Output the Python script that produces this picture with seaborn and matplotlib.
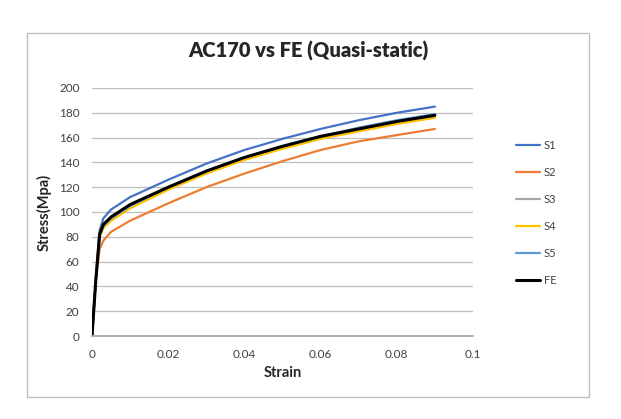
import numpy as np
import pandas as pd
import matplotlib
matplotlib.use("Agg")
import matplotlib.pyplot as plt
import seaborn as sns
from matplotlib.patches import Rectangle

# stress-strain readings
strain = [0, 0.001, 0.002, 0.003, 0.005, 0.01, 0.02, 0.03, 0.04, 0.05, 0.06, 0.07, 0.08, 0.09]
s1 = [0, 45, 85, 95, 102, 112, 126, 139, 150, 159, 167, 174, 180, 185]
s2 = [0, 45, 70, 77, 84, 93, 107, 120, 131, 141, 150, 157, 162, 167]
s3 = [0, 45, 80, 88, 94, 104, 119, 132, 143, 152, 160, 166, 172, 177]
s4 = [0, 45, 80, 87, 93, 103, 118, 131, 142, 151, 159, 165, 171, 176]
s5 = [0, 45, 82, 89, 95, 105, 120, 133, 144, 153, 161, 168, 174, 179]
fe = [0, 45, 82, 90, 96, 106, 120, 133, 144, 153, 161, 167, 173, 178]

names = ["S1", "S2", "S3", "S4", "S5", "FE"]
colors = ["#4472C4", "#ED7D31", "#A5A5A5", "#FFC000", "#5B9BD5", "#000000"]

rows = []
for name, vals in zip(names, [s1, s2, s3, s4, s5, fe]):
    for x, y in zip(strain, vals):
        rows.append({"Strain": x, "Stress": y, "series": name})
df = pd.DataFrame(rows)

sns.set_theme(style="white")
plt.rcParams["font.family"] = ["Lato", "DejaVu Sans"]

fig = plt.figure(figsize=(6.21, 4.19), dpi=100)
fig.patches.append(Rectangle((27 / 621, 1 - 397 / 419), 562 / 621, 364 / 419,
                             transform=fig.transFigure, fill=False,
                             edgecolor="#BFBFBF", linewidth=1))
ax = fig.add_axes([92 / 621, 1 - 336 / 419, 381 / 621, 248 / 419])

for name, col in zip(names, colors):
    sub = df[df["series"] == name]
    sns.lineplot(data=sub, x="Strain", y="Stress", ax=ax, color=col,
                 linewidth=2.2 if name == "FE" else 1.6, label=name)

ax.set_xlim(0, 0.1)
ax.set_ylim(0, 200)
ax.set_xticks([0, 0.02, 0.04, 0.06, 0.08, 0.1])
ax.set_xticklabels(["0", "0.02", "0.04", "0.06", "0.08", "0.1"])
ax.set_yticks(range(0, 201, 20))
ax.yaxis.grid(True, color="#BFBFBF", linewidth=0.9)
ax.xaxis.grid(False)
for s in ["top", "right", "left"]:
    ax.spines[s].set_visible(False)
ax.spines["bottom"].set_color("#A6A6A6")
ax.tick_params(axis="both", labelsize=8.5, colors="#404040", length=0)
ax.tick_params(axis="x", pad=9)
ax.tick_params(axis="y", pad=9)
ax.set_xlabel("Strain", fontsize=10.5, fontweight="bold", color="#262626", labelpad=5)
ax.set_ylabel("Stress(Mpa)", fontsize=10.5, fontweight="bold", color="#262626", labelpad=5)
fig.text(308 / 621, 1 - 51 / 419, "AC170 vs FE (Quasi-static)", fontsize=14.5,
         fontweight="heavy", color="#262626", ha="center", va="center")

ax.legend(loc="center left", bbox_to_anchor=(506 / 621, 1 - 213 / 419),
          bbox_transform=fig.transFigure, frameon=False, fontsize=8,
          handlelength=2.2, labelspacing=1.45, handletextpad=0.3)
for t in ax.get_legend().get_texts():
    t.set_color("#404040")

fig.savefig("out.png", dpi=100)
